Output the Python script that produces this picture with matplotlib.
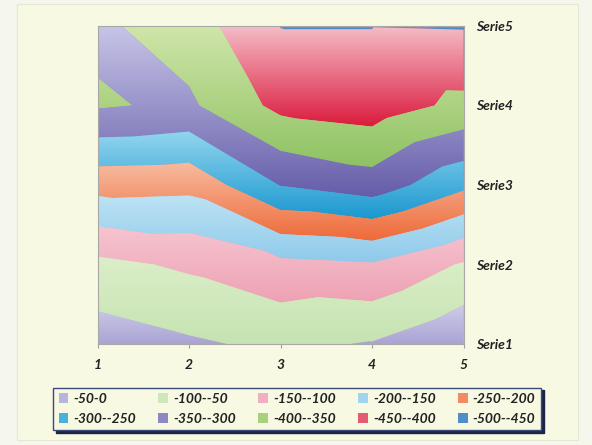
import numpy as np
import matplotlib
matplotlib.use("Agg")
import matplotlib.pyplot as plt
from matplotlib.tri import Triangulation
from matplotlib.colors import LinearSegmentedColormap, to_rgb
from matplotlib.patches import Patch, Rectangle

# ---- data -------------------------------------------------------------
categories = [1, 2, 3, 4, 5]
series_names = ["Serie1", "Serie2", "Serie3", "Serie4", "Serie5"]
serie1 = [-24, -43, -60, -47, -7]
serie2 = [-87, -108, -137, -146, -95]
serie3 = [-218, -214, -302, -328, -262]
serie4 = [-355, -342, -414, -426, -388]
serie5 = [-341, -375, -451, -451, -453]
levels = [-500, -450, -400, -350, -300, -250, -200, -150, -100, -50, 0]

# band colours, listed from the highest band (-50-0) down to the lowest
band_top = ["#cfcbe8", "#dbeec8", "#f6c4cf", "#bde2f4", "#f7bba0",
            "#93d5ef", "#c8c5e8", "#d0e6aa", "#f5bcc7", "#6aa6da"]
band_bottom = ["#a9a4d3", "#c6e3b2", "#eea2b4", "#8fcaea", "#ee6a38",
               "#1a98cf", "#655da9", "#8fc262", "#db1a3d", "#3b7fc0"]

# ---- style ------------------------------------------------------------
bg = "#f8f9e3"
font = dict(family="Lato", weight="bold", style="italic")
txt_color = "#222222"

fig = plt.figure(figsize=(5.92, 4.45), dpi=100, facecolor="#f5f6ec")
W, H = 592, 445
fig.patches.append(Rectangle((17 / W, 1 - 440 / H), (578 - 17) / W, (440 - 4) / H,
                             transform=fig.transFigure, facecolor=bg,
                             edgecolor="#e6e8d6", linewidth=0.8, zorder=-5))

ax = fig.add_axes([97.5 / W, 1 - 344 / H, (463.5 - 97.5) / W, (344 - 26) / H])
ax.set_zorder(2)

# grid points and triangles (each cell split along its top-left/bottom-right diagonal)
grid = np.array([serie1, serie2, serie3, serie4, serie5], dtype=float)
nrow, ncol = grid.shape
xx, yy = np.meshgrid(np.array(categories, dtype=float), np.arange(1, nrow + 1, dtype=float))
triangles = []
for j in range(nrow - 1):
    for i in range(ncol - 1):
        bl = j * ncol + i
        br = bl + 1
        tl = bl + ncol
        tr = tl + 1
        triangles.append([bl, br, tl])
        triangles.append([tl, br, tr])
tri = Triangulation(xx.ravel(), yy.ravel(), np.array(triangles))

tops_asc = band_top[::-1]
bottoms_asc = band_bottom[::-1]


def mix(c1, c2, t=0.5):
    a, b = np.array(to_rgb(c1)), np.array(to_rgb(c2))
    return tuple(a * (1 - t) + b * t)


mids_asc = [mix(a, b, 0.55) for a, b in zip(tops_asc, bottoms_asc)]

cs = ax.tricontourf(tri, grid.ravel(), levels=levels, colors=mids_asc, zorder=1)

# vertical gradient inside every band
grad = np.linspace(0, 1, 256).reshape(-1, 1)
for k, path in enumerate(cs.get_paths()):
    if path.vertices.size == 0:
        continue
    ext = path.get_extents()
    y_lo, y_hi = ext.y0, ext.y1
    if y_hi - y_lo <= 1e-6:
        continue
    cmap = LinearSegmentedColormap.from_list(f"band{k}", [tops_asc[k], bottoms_asc[k]])
    im = ax.imshow(grad, cmap=cmap, vmin=0, vmax=1, extent=(1, 5, y_lo, y_hi),
                   origin="upper", aspect="auto", interpolation="bilinear", zorder=2)
    im.set_clip_path(path, transform=ax.transData)

ax.set_xlim(1, 5)
ax.set_ylim(1, 5)

ax.set_xticks(categories)
ax.set_xticklabels([str(c) for c in categories], fontsize=10, color=txt_color, **font)
ax.set_yticks(range(1, nrow + 1))
ax.set_yticklabels(series_names, fontsize=10, color=txt_color, **font)
ax.yaxis.tick_right()
ax.tick_params(axis="x", length=3, color="#a0a0a0", pad=8)
ax.tick_params(axis="y", length=0, pad=9)
for sp in ax.spines.values():
    sp.set_color("#a8a8a8")
    sp.set_linewidth(0.8)
    sp.set_zorder(5)

# ---- legend -------------------------------------------------------------
labels_desc = [f"{levels[i]}-{levels[i + 1]}" for i in range(len(levels) - 1)][::-1]
swatches_desc = [mix(a, b, 0.6) for a, b in zip(band_top, band_bottom)]
handles_desc = [Patch(facecolor=c, edgecolor="none") for c in swatches_desc]
order = []
for c in range(5):
    order += [c, c + 5]
leg = fig.legend([handles_desc[i] for i in order], [labels_desc[i] for i in order],
                 ncol=5, loc="center", mode="expand",
                 bbox_to_anchor=(53 / W, 1 - 430 / H, 488 / W, 42 / H),
                 prop=dict(size=10, **font), frameon=True, fancybox=False,
                 facecolor=bg, edgecolor="#3b4a7a", framealpha=1,
                 shadow={"color": "#1b2547", "alpha": 1},
                 borderpad=0.4, handlelength=0.7, handleheight=0.7,
                 handletextpad=0.35, labelspacing=0.55, borderaxespad=0)
for t in leg.get_texts():
    t.set_color(txt_color)

fig.savefig("out.png", dpi=100, facecolor=fig.get_facecolor())
